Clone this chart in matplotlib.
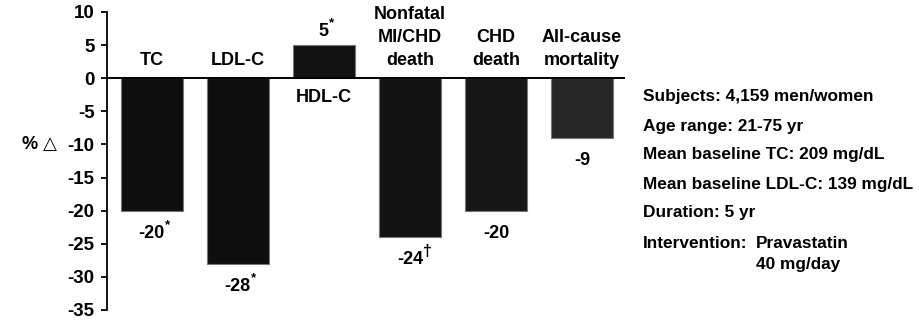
import matplotlib
matplotlib.use("Agg")
import matplotlib.pyplot as plt

categories = ["TC", "LDL-C", "HDL-C", "Nonfatal\nMI/CHD\ndeath", "CHD\ndeath", "All-cause\nmortality"]
values = [-20, -28, 5, -24, -20, -9]
value_marks = ["*", "*", "*", "\u2020", "", ""]
bar_colors = ["#0e0e0e", "#0e0e0e", "#111111", "#121212", "#161616", "#262626"]
yticks = [10, 5, 0, -5, -10, -15, -20, -25, -30, -35]
info_lines = ["Subjects: 4,159 men/women", "Age range: 21-75 yr", "Mean baseline TC: 209 mg/dL",
              "Mean baseline LDL-C: 139 mg/dL", "Duration: 5 yr"]
intervention_label = "Intervention:"
intervention_value = ["Pravastatin", "40 mg/day"]

FAM = ["Liberation Sans", "DejaVu Sans"]
plt.rcParams["font.family"] = FAM
plt.rcParams["font.weight"] = "bold"

fig = plt.figure(figsize=(9.19, 3.21), dpi=100)
ax = fig.add_axes([107/919, 11/321, (625-107)/919, 298/321])

x = list(range(len(values)))
ax.bar(x, values, width=0.72, color=bar_colors, edgecolor="#777777", linewidth=0.8, zorder=2)
ax.axhline(0, color="black", linewidth=1.4, zorder=3)

ax.set_xlim(-0.52, 5.5)
ax.set_ylim(-35, 10)
ax.set_yticks(yticks)
ax.set_yticklabels([str(t) for t in yticks], fontsize=13.5, fontweight="bold")
ax.set_xticks([])
for s in ["top", "right", "bottom"]:
    ax.spines[s].set_visible(False)
ax.spines["left"].set_linewidth(1.3)
ax.tick_params(axis="y", direction="out", length=4.5, width=1.3, pad=4.5)

for i, (cat, v, m) in enumerate(zip(categories, values, value_marks)):
    if v < 0:
        ax.text(i, 1.4, cat, ha="center", va="bottom", fontsize=13, fontweight="bold", linespacing=1.45)
        t = ax.annotate(str(v), xy=(i, v), xytext=(0, -10), textcoords="offset points",
                        ha="center", va="top", fontsize=13, fontweight="bold")
    else:
        ax.text(i, -1.6, cat, ha="center", va="top", fontsize=13, fontweight="bold")
        t = ax.annotate(str(v), xy=(i, v), xytext=(0, 4), textcoords="offset points",
                        ha="center", va="bottom", fontsize=13, fontweight="bold")
    if m:
        ax.annotate(m, xy=(1, 0.95), xycoords=t, xytext=(0.3, 0), textcoords="offset points",
                    ha="left", va="center", fontsize=9.5 if m == "*" else 11.5, fontweight="bold")

fig.text(40/919, 1 - 144/321, "% \u25b3", ha="center", va="center", fontsize=13, fontweight="bold")

fs_info = 12.4
ys = [97, 126, 155, 185, 213]
for y, line in zip(ys, info_lines):
    fig.text(643/919, 1 - y/321, line, ha="left", va="center", fontsize=fs_info, fontweight="bold")
fig.text(643/919, 1 - 243/321, intervention_label, ha="left", va="center", fontsize=fs_info, fontweight="bold")
fig.text(756/919, 1 - 243/321, intervention_value[0], ha="left", va="center", fontsize=fs_info, fontweight="bold")
fig.text(756/919, 1 - 264/321, intervention_value[1], ha="left", va="center", fontsize=fs_info, fontweight="bold")

fig.savefig("out.png", dpi=100)
